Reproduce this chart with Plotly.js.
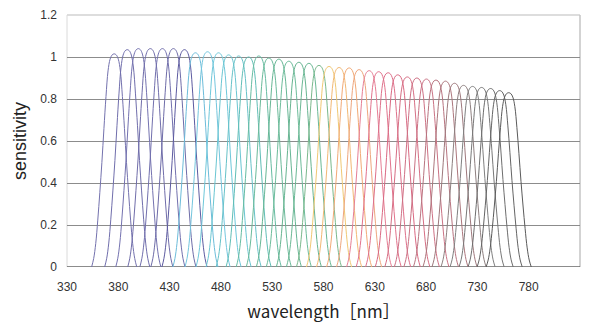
<!DOCTYPE html>
<html>
<head>
<meta charset="utf-8">
<script src="https://cdn.plot.ly/plotly-3.0.1.min.js"></script>
<style>
  html, body { margin: 0; padding: 0; background: #fff; }
  #chart { width: 590px; height: 324px; }
</style>
</head>
<body>
<div id="chart"></div>
<script>
// Peak wavelength (nm) of each band-pass channel
const centers = [376.0, 388.7, 399.5, 411.2, 423.0, 433.7, 444.5, 455.2, 467.0, 477.7,
                 487.5, 497.3, 507.0, 516.9, 526.7, 536.5, 546.2, 556.0, 565.8, 575.6,
                 585.4, 595.2, 605.0, 614.7, 624.5, 633.8, 643.0, 652.4, 661.7, 671.0,
                 680.3, 689.6, 698.9, 707.7, 716.5, 725.3, 734.1, 742.9, 751.7, 760.5];

// Peak sensitivity of each channel
const peaks = [1.015, 1.035, 1.04, 1.04, 1.04, 1.04, 1.035, 1.02, 1.025, 1.02,
               1.01, 1.005, 1.0, 1.005, 0.995, 0.99, 0.98, 0.975, 0.97, 0.96,
               0.955, 0.95, 0.948, 0.94, 0.935, 0.93, 0.925, 0.915, 0.905, 0.9,
               0.895, 0.89, 0.885, 0.875, 0.865, 0.86, 0.855, 0.85, 0.84, 0.83];

// Line colour of each channel
const colors = ["#7472ae", "#706eac", "#7472b0", "#706daa", "#7270ae", "#6e6ca8", "#5c5aa0",
                "#6cbcda", "#74c6de", "#6ec8da", "#6ac6d2", "#66c2c8", "#60beb6",
                "#66bca2", "#6aba9a", "#66b694", "#6cbc9a", "#66b490", "#6ab894", "#7ab88c",
                "#f0c874", "#f2b874", "#f2aa76", "#eea67e",
                "#e67e94", "#e2728c", "#de708a", "#da6882", "#d66e84", "#ce7084", "#ca7284",
                "#b87480", "#ac767c", "#9e787c",
                "#8e8080", "#808080", "#787878", "#6e6e6e", "#646464", "#5a5a5a"];

// Common pass-band profile: distance from the peak (nm) and relative sensitivity
const profileOffset = [0, 2, 4, 6, 8, 10, 12, 14, 16, 18, 20, 22];
const profileShape  = [1, 0.995, 0.975, 0.92, 0.8, 0.65, 0.49, 0.35, 0.22, 0.11, 0.04, 0];

// Axis ticks
const xTicks = [330, 380, 430, 480, 530, 580, 630, 680, 730, 780, 830];
const yTicks = [0, 0.2, 0.4, 0.6, 0.8, 1, 1.2];
const yTickText = ["0", "0.2", "0.4", "0.6", "0.8", "1", "1.2"];

// One symmetric curve per channel, built from the shared profile
const traces = centers.map((c, i) => {
  const x = [], y = [];
  for (let k = profileOffset.length - 1; k > 0; k--) {
    x.push(c - profileOffset[k]);
    y.push(peaks[i] * profileShape[k]);
  }
  for (let k = 0; k < profileOffset.length; k++) {
    x.push(c + profileOffset[k]);
    y.push(peaks[i] * profileShape[k]);
  }
  return {
    type: "scatter",
    mode: "lines",
    x, y,
    line: { color: colors[i], width: 1, shape: "spline", smoothing: 1 },
    hoverinfo: "skip",
    showlegend: false
  };
});

const tickFont = { family: "Liberation Sans, Arial, sans-serif", size: 12, color: "#333" };

const layout = {
  width: 590,
  height: 324,
  margin: { l: 67, r: 10, t: 15, b: 57 },
  paper_bgcolor: "#fff",
  plot_bgcolor: "#fff",
  showlegend: false,
  xaxis: {
    range: [330, 830],
    tickmode: "array",
    tickvals: xTicks,
    ticks: "",
    showgrid: false,
    zeroline: false,
    showline: false,
    tickfont: tickFont,
    ticklabelstandoff: 11,
    title: {
      text: "wavelength［nm］",
      font: { family: "Noto Sans CJK JP, Liberation Sans, sans-serif", size: 17, color: "#222" },
      standoff: 13
    }
  },
  yaxis: {
    range: [0, 1.2],
    tickmode: "array",
    tickvals: yTicks,
    ticktext: yTickText,
    ticks: "",
    showgrid: true,
    gridcolor: "#8c8c8c",
    gridwidth: 1,
    zeroline: false,
    showline: false,
    tickfont: tickFont,
    ticklabelstandoff: 9,
    title: {
      text: "sensitivity",
      font: { family: "Liberation Sans, Arial, sans-serif", size: 18, color: "#222" },
      standoff: 9
    }
  },
  shapes: [
    // light frame on the top, left and right of the plot area
    { type: "line", xref: "paper", yref: "paper", x0: 0, x1: 1, y0: 1, y1: 1,
      line: { color: "#d2d2d2", width: 1.5 }, layer: "between" },
    { type: "line", xref: "paper", yref: "paper", x0: 0, x1: 0, y0: 0, y1: 1,
      line: { color: "#dadada", width: 1 }, layer: "between" },
    { type: "line", xref: "paper", yref: "paper", x0: 1, x1: 1, y0: 0, y1: 1,
      line: { color: "#c4c4c4", width: 1.5 }, layer: "between" },
    // dark baseline
    { type: "line", xref: "paper", yref: "y", x0: 0, x1: 1, y0: 0, y1: 0,
      line: { color: "#666", width: 1.5 }, layer: "between" }
  ]
};

Plotly.newPlot("chart", traces, layout, { staticPlot: true, displayModeBar: false });
</script>
</body>
</html>
